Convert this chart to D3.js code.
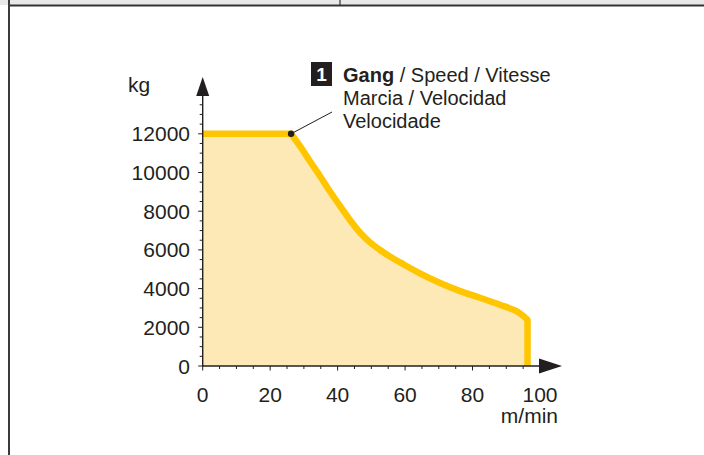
<!DOCTYPE html>
<html><head><meta charset="utf-8">
<script src="https://cdn.jsdelivr.net/npm/d3@7"></script>
<style>html,body{margin:0;padding:0;background:#fff;}svg{display:block;}</style>
</head><body>
<svg id="c" width="704" height="455"></svg>
<script>
// Data
const speed = [0, 26.2, 28.85, 31.8, 34.8, 37.7, 40.7, 43.7, 46.6, 49.6, 52.6, 55.5, 58.5, 64.4, 70.4, 76.3, 82.2, 88.1, 92.6, 95.25, 96.3, 96.3];
const load  = [12000, 12000, 11360, 10580, 9810, 9030, 8270, 7535, 6900, 6390, 5995, 5655, 5355, 4785, 4285, 3870, 3525, 3165, 2870, 2560, 2380, 0];
const xTickLabels = [0, 20, 40, 60, 80, 100];
const yTickLabels = [0, 2000, 4000, 6000, 8000, 10000, 12000];
const xUnit = "m/min", yUnit = "kg";
const legendLines = [["Gang", " / Speed / Vitesse"], ["", "Marcia / Velocidad"], ["", "Velocidade"]];
const legendNo = "1";

const svg = d3.select("#c");
const ink = "#231f20";
const font = "'Liberation Sans', Arial, Helvetica, sans-serif";

// frame
svg.append("rect").attr("x",0).attr("y",0).attr("width",704).attr("height",5).attr("fill","#e8e8e8");
svg.append("line").attr("x1",8).attr("x2",704).attr("y1",5.5).attr("y2",5.5).attr("stroke","#333").attr("stroke-width",2);
svg.append("line").attr("x1",9).attr("x2",9).attr("y1",0).attr("y2",455).attr("stroke","#3a3a3a").attr("stroke-width",2);
svg.append("line").attr("x1",340).attr("x2",340).attr("y1",0).attr("y2",5).attr("stroke","#333").attr("stroke-width",1.2);

const x = d3.scaleLinear().domain([0,100]).range([202.7,540]);
const y = d3.scaleLinear().domain([0,12000]).range([366,133.8]);

const pts = speed.map((s,i)=>[s,load[i]]);
const n = pts.length;
const curvePart = pts.slice(1, n-1);
const curveGen = d3.line().x(d=>x(d[0])).y(d=>y(d[1])).curve(d3.curveCatmullRom.alpha(0.5));
const curveD = curveGen(curvePart).replace(/^M/, "L");
const startD = `M${x(pts[0][0])},${y(pts[0][1])}`;
const endD = `L${x(pts[n-1][0])},${y(pts[n-1][1])}`;

// fill
svg.append("path").attr("d", startD + curveD + endD + `L${x(0)},${y(0)}Z`).attr("fill","#fde9b6");
// stroke
svg.append("path").attr("d", startD + curveD + endD).attr("fill","none")
  .attr("stroke","#ffc600").attr("stroke-width",6.5).attr("stroke-linejoin","round");

// axes
const yTop = y(14000);
svg.append("line").attr("x1",x(0)).attr("x2",x(0)).attr("y1",y(0)+0.5).attr("y2",yTop).attr("stroke",ink).attr("stroke-width",1.4);
svg.append("line").attr("x1",x(0)-0.5).attr("x2",540).attr("y1",y(0)).attr("y2",y(0)).attr("stroke",ink).attr("stroke-width",1.4);
svg.append("path").attr("d",`M${x(0)},${yTop-18} L${x(0)-6.5},${yTop+1} L${x(0)+6.5},${yTop+1} Z`).attr("fill",ink);
svg.append("path").attr("d",`M562,${y(0)} L539,${y(0)-7.5} L539,${y(0)+7.5} Z`).attr("fill",ink);

// ticks
const yMinor = d3.range(0, 14000, 500);
svg.append("g").selectAll("line").data(yMinor).join("line")
  .attr("x1",d=> x(0) - (d%2000===0?4.5:3)).attr("x2",x(0)).attr("y1",d=>y(d)).attr("y2",d=>y(d))
  .attr("stroke",ink).attr("stroke-width",1);
const xMinor = d3.range(0, 100, 5);
svg.append("g").selectAll("line").data(xMinor).join("line")
  .attr("x1",d=>x(d)).attr("x2",d=>x(d)).attr("y1",y(0)).attr("y2",d=> y(0) + (d%20===0?4.5:3))
  .attr("stroke",ink).attr("stroke-width",1);

// tick labels
svg.append("g").selectAll("text").data(yTickLabels).join("text")
  .attr("x",190).attr("y",d=>y(d)+7.5).attr("text-anchor","end")
  .attr("font-family",font).attr("font-size",21).attr("fill",ink).text(d=>d);
svg.append("g").selectAll("text").data(xTickLabels).join("text")
  .attr("x",d=>x(d)).attr("y",402).attr("text-anchor","middle")
  .attr("font-family",font).attr("font-size",21).attr("fill",ink).text(d=>d);
svg.append("text").attr("x",558).attr("y",423).attr("text-anchor","end")
  .attr("font-family",font).attr("font-size",21).attr("fill",ink).text(xUnit);
svg.append("text").attr("x",128).attr("y",92)
  .attr("font-family",font).attr("font-size",21).attr("fill",ink).text(yUnit);

// annotation
svg.append("line").attr("x1",x(26.2)).attr("y1",y(12000)).attr("x2",332).attr("y2",112).attr("stroke",ink).attr("stroke-width",1);
svg.append("circle").attr("cx",x(26.2)).attr("cy",y(12000)).attr("r",3.2).attr("fill",ink);
svg.append("rect").attr("x",311).attr("y",62).attr("width",21).attr("height",24).attr("fill",ink);
svg.append("text").attr("x",321.5).attr("y",81).attr("text-anchor","middle").attr("font-family",font)
  .attr("font-weight","bold").attr("font-size",19).attr("fill","#fff").text(legendNo);
legendLines.forEach((l,i)=>{
  const t = svg.append("text").attr("x",343).attr("y",82+i*23).attr("font-family",font).attr("font-size",20).attr("fill",ink);
  if(l[0]) t.append("tspan").attr("font-weight","bold").text(l[0]);
  t.append("tspan").text(l[1]);
});
</script>
</body></html>
